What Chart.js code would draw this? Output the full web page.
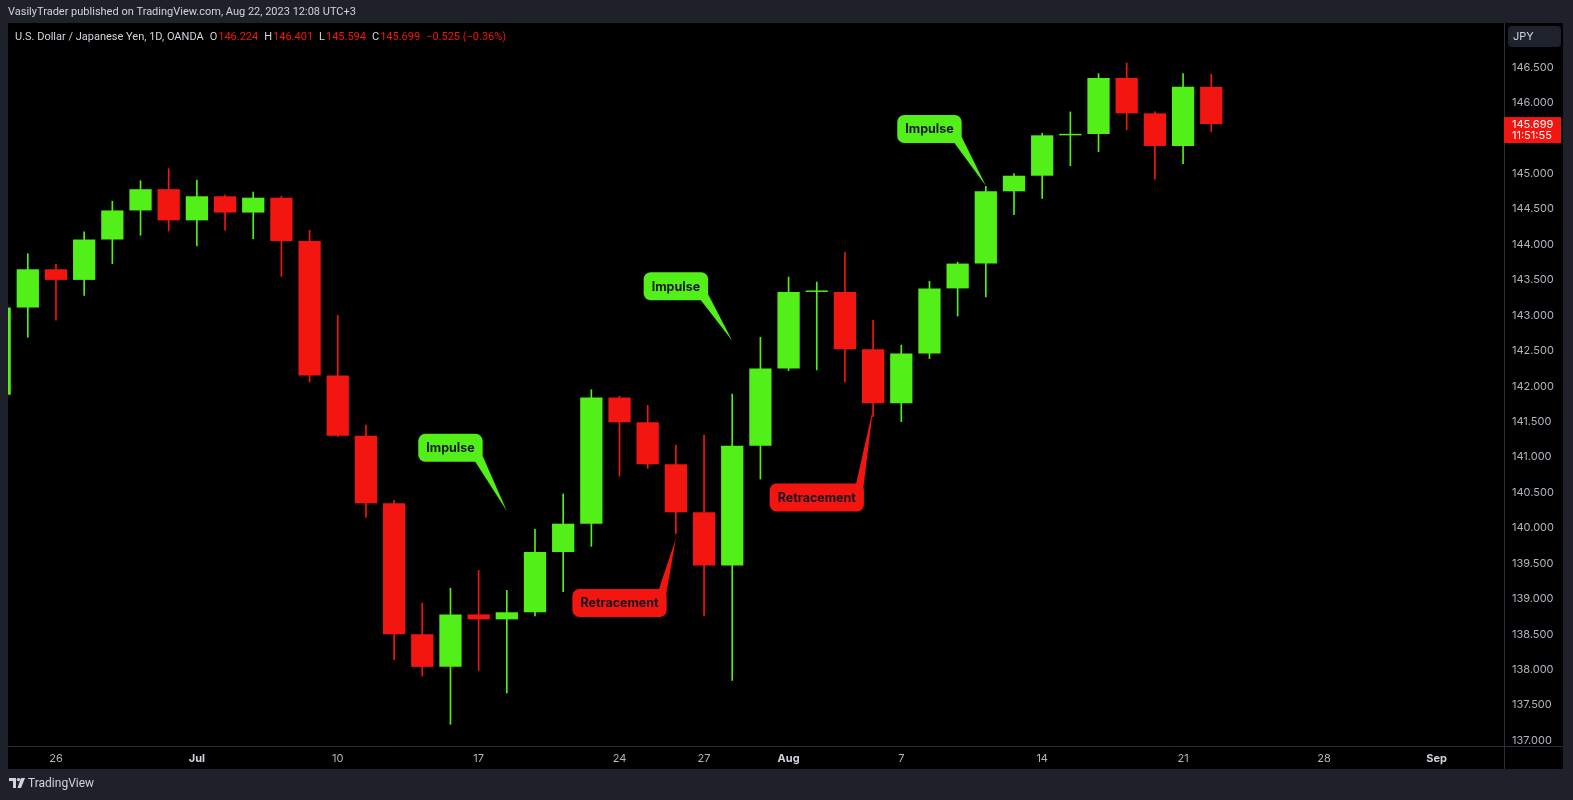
<!DOCTYPE html>
<html>
<head>
<meta charset="utf-8">
<title>USDJPY 1D</title>
<script src="https://cdn.jsdelivr.net/npm/chart.js@4.4.1/dist/chart.umd.min.js"></script>
<style>
html, body { margin: 0; padding: 0; background: #1e212a; overflow: hidden; }
#wrap { width: 1573px; height: 800px; }
</style>
</head>
<body>
<div id="wrap"><canvas id="chart" width="1573" height="800"></canvas></div>
<script>
// daily candles, Jun 22 - Aug 22 2023 (first one is cut by the left edge)
const days = ['Jun 22','Jun 23','Jun 26','Jun 27','Jun 28','Jun 29','Jun 30','Jul 3','Jul 4','Jul 5','Jul 6','Jul 7',
  'Jul 10','Jul 11','Jul 12','Jul 13','Jul 14','Jul 17','Jul 18','Jul 19','Jul 20','Jul 21','Jul 24','Jul 25','Jul 26',
  'Jul 27','Jul 28','Jul 31','Aug 1','Aug 2','Aug 3','Aug 4','Aug 7','Aug 8','Aug 9','Aug 10','Aug 11','Aug 14',
  'Aug 15','Aug 16','Aug 17','Aug 18','Aug 21','Aug 22']
const opens = [141.88,143.11,143.65,143.50,144.07,144.48,144.78,144.34,144.68,144.45,144.66,144.05,
  142.15,141.30,140.35,138.50,138.04,138.78,138.71,138.81,139.66,140.06,141.84,141.49,140.90,
  140.22,139.47,141.16,142.25,143.33,143.33,142.52,141.76,142.46,143.38,143.73,144.75,144.97,
  145.54,145.56,146.35,145.85,145.39,146.224]
const highs = [143.25,143.87,143.72,144.18,144.61,144.90,145.07,144.91,144.70,144.74,144.68,144.20,
  143.00,141.45,140.39,138.94,139.15,139.40,139.12,139.98,140.48,141.95,141.86,141.73,141.17,
  141.31,141.89,142.69,143.54,143.47,143.89,142.93,142.58,143.48,143.75,144.82,145.00,145.57,
  145.87,146.41,146.56,145.87,146.41,146.401]
const lows = [141.70,142.69,142.93,143.28,143.73,144.13,144.19,143.98,144.20,144.08,143.55,142.06,
  141.29,140.15,138.14,137.91,137.23,137.99,137.67,138.76,139.10,139.74,140.73,140.84,139.92,
  138.76,137.85,140.69,142.22,142.23,142.06,141.57,141.50,142.39,142.99,143.26,144.42,144.65,
  145.11,145.31,145.62,144.92,145.14,145.594]
const closes = [143.11,143.65,143.50,144.07,144.48,144.78,144.34,144.68,144.45,144.66,144.05,142.15,
  141.30,140.35,138.50,138.04,138.78,138.71,138.81,139.66,140.06,141.84,141.49,140.90,140.22,
  139.47,141.16,142.25,143.33,143.34,142.52,141.76,142.46,143.38,143.73,144.75,144.97,145.54,
  145.56,146.35,145.85,145.39,146.224,145.699]

const priceTicks = [137,137.5,138,138.5,139,139.5,140,140.5,141,141.5,142,142.5,143,143.5,144,144.5,145,145.5,146,146.5]
const dateTickIdx = [2,7,12,17,22,25,28,32,37,42,47,51]
const dateTickText = ['26','Jul','10','17','24','27','Aug','7','14','21','28','Sep']

// callouts: text, box centre (bar index, price), tip (bar index, price)
const noteText = ['Impulse','Retracement','Impulse','Retracement','Impulse']
const noteX = [16,22,24,29,33]
const noteY = [141.13,138.94,143.41,140.43,145.63]
const tipX = [18,24,26,31,35]
const tipY = [140.24,139.85,142.64,141.69,144.83]

const GREEN = '#52ef18'
const RED = '#f3150f'
const FONT = 'Inter, "Noto Sans", sans-serif'
const TFONT = 'Roboto, "Noto Sans", sans-serif'

const candleColors = closes.map((c, i) => c >= opens[i] ? GREEN : RED)
const isMonth = c => !!(c.tick && /[A-Za-z]/.test(c.tick.label))

const paneBg = {
    id: 'paneBg',
    beforeDraw(chart) {
        const c = chart.ctx, a = chart.chartArea
        c.save()
        c.fillStyle = '#1e212a'
        c.fillRect(0, 0, chart.width, chart.height)
        c.fillStyle = '#000000'
        c.fillRect(8, 23, 1555, 746)
        c.strokeStyle = '#2a2e39'
        c.lineWidth = 1
        c.beginPath()
        c.moveTo(a.right + 0.5, 23); c.lineTo(a.right + 0.5, 769)
        c.moveTo(8, a.bottom + 0.5); c.lineTo(1563, a.bottom + 0.5)
        c.stroke()
        c.restore()
    }
}

function drawNotes(chart) {
    const c = chart.ctx, a = chart.chartArea
    const xs = chart.scales.x, ys = chart.scales.y
    c.save()
    c.beginPath()
    c.rect(a.left, a.top, a.right - a.left, a.bottom - a.top)
    c.clip()
    c.font = 'bold 12.5px ' + FONT
    noteText.forEach((t, k) => {
        const cx = xs.getPixelForValue(noteX[k]), cy = ys.getPixelForValue(noteY[k])
        const w = c.measureText(t).width + 16, h = 28
        const l = cx - w / 2, r = cx + w / 2, top = cy - h / 2, bot = cy + h / 2
        const tx = xs.getPixelForValue(tipX[k]), ty = ys.getPixelForValue(tipY[k])
        c.fillStyle = t == 'Impulse' ? GREEN : RED
        c.beginPath()
        if (ty > bot) {
            c.moveTo(r - 8, bot - 1); c.lineTo(tx, ty); c.lineTo(r - 1, bot - 8)
        } else {
            c.moveTo(r - 8, top + 1); c.lineTo(tx, ty); c.lineTo(r - 1, top + 8)
        }
        c.closePath()
        c.fill()
        c.beginPath()
        c.roundRect(l, top, w, h, 7)
        c.fill()
        c.fillStyle = '#131722'
        c.textAlign = 'center'
        c.textBaseline = 'middle'
        c.fillText(t, cx, cy + 0.5)
    })
    c.restore()
}

const overlay = {
    id: 'overlay',
    afterDatasetsDraw(chart) {
        drawNotes(chart)
    },
    afterDraw(chart) {
        const c = chart.ctx, ys = chart.scales.y, a = chart.chartArea
        const n = closes.length - 1
        c.save()
        c.textAlign = 'left'
        c.textBaseline = 'middle'

        c.font = '11px ' + TFONT
        c.fillStyle = '#d1d4dc'
        c.fillText('VasilyTrader published on TradingView.com, Aug 22, 2023 12:08 UTC+3', 8, 12)

        // legend line with OHLC of the last bar
        const chg = closes[n] - closes[n - 1]
        const pct = chg / closes[n - 1] * 100
        const valCol = chg < 0 ? RED : GREEN
        const sgn = (v, d) => (v < 0 ? '\u2212' : '+') + Math.abs(v).toFixed(d)
        let x = 15
        const seg = (txt, col, gap) => {
            c.fillStyle = col
            c.fillText(txt, x, 37)
            x += c.measureText(txt).width + gap
        }
        seg('U.S. Dollar / Japanese Yen, 1D, OANDA', '#d1d4dc', 6)
        seg('O', '#d1d4dc', 1); seg(opens[n].toFixed(3), valCol, 6)
        seg('H', '#d1d4dc', 1); seg(highs[n].toFixed(3), valCol, 6)
        seg('L', '#d1d4dc', 1); seg(lows[n].toFixed(3), valCol, 6)
        seg('C', '#d1d4dc', 1); seg(closes[n].toFixed(3), valCol, 6)
        seg(sgn(chg, 3) + ' (' + sgn(pct, 2) + '%)', valCol, 0)

        // currency button
        c.fillStyle = '#1e222d'
        c.beginPath()
        c.roundRect(a.right + 4, 26, 53, 21, 4)
        c.fill()
        c.font = '11px ' + FONT
        c.fillStyle = '#d1d4dc'
        c.fillText('JPY', a.right + 9, 36.5)

        // last price label
        const py = ys.getPixelForValue(closes[n])
        c.fillStyle = valCol
        c.fillRect(a.right, py - 7, 57, 26)
        c.fillStyle = '#ffffff'
        c.fillText(closes[n].toFixed(3), a.right + 8, py + 0.5)
        c.fillText('11:51:55', a.right + 8, py + 12)

        // footer
        c.fillStyle = '#d1d4dc'
        c.fillRect(9, 778, 7, 3)
        c.fillRect(13, 778, 3, 10)
        c.beginPath(); c.arc(18.5, 779.6, 1.7, 0, Math.PI * 2); c.fill()
        c.beginPath()
        c.moveTo(21, 778); c.lineTo(25, 778); c.lineTo(21, 788); c.lineTo(17.5, 788)
        c.closePath(); c.fill()
        c.font = '12px ' + TFONT
        c.fillText('TradingView', 28, 784)
        c.restore()
    }
}

const ctx = document.getElementById('chart')

new Chart(ctx, {
    type: 'bar',
    data: {
        datasets: [{
            label: 'body',
            data: opens.map((o, i) => ({ x: i, y: [o, closes[i]] })),
            backgroundColor: candleColors,
            grouped: false,
            barPercentage: 0.79,
            categoryPercentage: 1,
            minBarLength: 1.5
        }, {
            label: 'wick',
            data: lows.map((l, i) => ({ x: i, y: [l, highs[i]] })),
            backgroundColor: candleColors,
            grouped: false,
            barThickness: 1
        }]
    },
    options: {
        responsive: false,
        animation: false,
        layout: { padding: { left: 8, top: 23, right: 10, bottom: 31 } },
        plugins: {
            legend: { display: false },
            tooltip: { enabled: false }
        },
        scales: {
            x: {
                type: 'linear',
                min: 0.297,
                max: 53.39,
                offset: false,
                grid: { display: false, drawTicks: false },
                border: { display: false },
                afterBuildTicks: s => { s.ticks = dateTickIdx.map(v => ({ value: v })) },
                afterFit: s => { s.height = 23 },
                ticks: {
                    autoSkip: false,
                    maxRotation: 0,
                    padding: 6,
                    callback: v => {
                        const k = dateTickIdx.indexOf(v)
                        return k < 0 ? '' : dateTickText[k]
                    },
                    color: c => isMonth(c) ? '#d1d4dc' : '#b2b5be',
                    font: c => ({ family: FONT, size: 11, weight: isMonth(c) ? 'bold' : 'normal' })
                }
            },
            y: {
                type: 'linear',
                position: 'right',
                min: 136.923,
                max: 147.125,
                grid: { display: false, drawTicks: false },
                border: { display: false },
                afterBuildTicks: s => { s.ticks = priceTicks.map(v => ({ value: v })) },
                afterFit: s => { s.width = 59 },
                ticks: {
                    padding: 8,
                    color: '#b2b5be',
                    font: { family: FONT, size: 11 },
                    callback: v => v.toFixed(3)
                }
            }
        }
    },
    plugins: [paneBg, overlay]
});
</script>
</body>
</html>
